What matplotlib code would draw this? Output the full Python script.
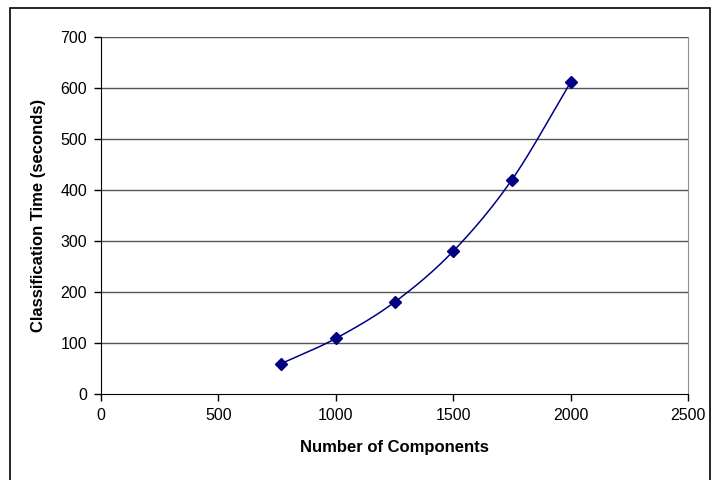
import numpy as np
import matplotlib
matplotlib.use("Agg")
import matplotlib.pyplot as plt
from matplotlib.patches import Rectangle

components = [765, 1000, 1250, 1500, 1750, 2000]
times = [59, 109, 180, 280, 420, 611]
xticks = [0, 500, 1000, 1500, 2000, 2500]
yticks = [0, 100, 200, 300, 400, 500, 600, 700]

plt.rcParams['font.family'] = ['Liberation Sans', 'DejaVu Sans']

def smooth(xs, ys, n=30):
    xs = np.asarray(xs, float); ys = np.asarray(ys, float)
    px = np.concatenate([[2*xs[0]-xs[1]], xs, [2*xs[-1]-xs[-2]]])
    py = np.concatenate([[2*ys[0]-ys[1]], ys, [2*ys[-1]-ys[-2]]])
    ox, oy = [], []
    t = np.linspace(0, 1, n)
    for i in range(1, len(px)-2):
        p0, p1, p2, p3 = [np.array([px[j], py[j]]) for j in range(i-1, i+3)]
        c1 = p1 + (p2 - p0) / 6
        c2 = p2 - (p3 - p1) / 6
        for tt in t:
            b = ((1-tt)**3)*p1 + 3*((1-tt)**2)*tt*c1 + 3*(1-tt)*tt**2*c2 + tt**3*p2
            ox.append(b[0]); oy.append(b[1])
    return ox, oy

fig = plt.figure(figsize=(7.12, 4.8), dpi=100)
fig.patches.append(Rectangle((10/712, -0.1), 700/712, 1.1 - 8/480, transform=fig.transFigure,
                             fill=False, edgecolor='black', linewidth=1.2))
ax = fig.add_axes([101/712, 1-394/480, 587/712, 357/480])
ax.set_xlim(0, 2500)
ax.set_ylim(0, 700)
ax.set_xticks(xticks)
ax.set_yticks(yticks)
ax.tick_params(direction='out', length=5, width=1, labelsize=11.5, pad=5, colors='black')
for y in yticks[1:]:
    ax.axhline(y, color='#555555', linewidth=1, zorder=1)
ax.spines['top'].set_visible(False)
ax.spines['right'].set_color('#909090')
ax.spines['left'].set_color('black')
ax.spines['bottom'].set_color('black')

sx, sy = smooth(components, times)
ax.plot(sx, sy, color='#000080', linewidth=1.1, zorder=3)
ax.plot(components, times, linestyle='none', marker='D', markersize=6.5,
        color='#000080', zorder=4)

ax.set_xlabel('Number of Components', fontsize=12, fontweight='bold', labelpad=12)
ax.set_ylabel('Classification Time (seconds)', fontsize=12, fontweight='bold', labelpad=10)

fig.savefig('out.png', dpi=100)
